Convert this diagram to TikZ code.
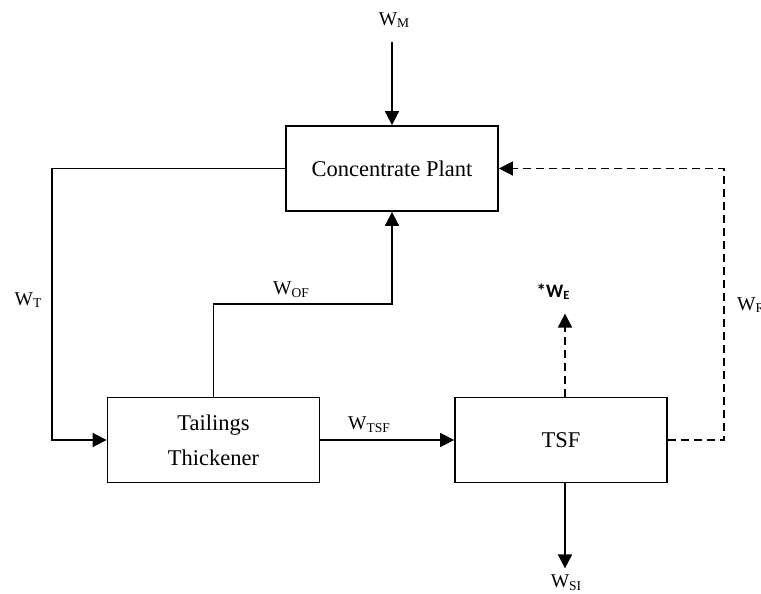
\documentclass[tikz,border=0pt]{standalone}
\usepackage{fontspec}
\setmainfont{Liberation Serif}
\newfontfamily\calibrifont{Carlito}
\usetikzlibrary{arrows.meta}
\newcommand{\flow}[1]{W\raisebox{-0.3ex}{\fontsize{13.5}{13.5}\selectfont #1}}

\begin{document}
\begin{tikzpicture}[x=1pt,y=-1pt,line width=1.8pt,
    >={Triangle[length=14pt,width=14pt]},
    unit/.style={draw,minimum width=212pt,minimum height=85pt,align=center,
        font=\fontsize{22.5}{35}\selectfont},
    lbl/.style={font=\fontsize{19.5}{22}\selectfont},
    recycle/.style={dashed,dash pattern=on 8pt off 5pt}]
    \useasboundingbox (0,0) rectangle (761,594);

    % process units
    \node[unit] (plant) at (392,168.5) {Concentrate Plant};
    \node[unit] (thick) at (213.5,440) {Tailings\\Thickener};
    \node[unit] (tsf) at (561,440) {TSF};

    % make-up water
    \coordinate (mtop) at (392,42);
    \draw[->] (mtop) -- (plant.north);
    \node[lbl] (wm) at (394,20) {\flow{M}};

    % tailings to thickener
    \draw[->] (plant.west) -- ++(-233,0) |- (thick.west);
    \node[lbl] (wt) at (28,300) {\flow{T}};

    % thickener overflow
    \draw[->] (thick.north) -- ++(0,-92.5) -| (plant.south);
    \node[lbl] (wof) at (291,290) {\flow{OF}};

    % thickener underflow
    \draw[->] (thick.east) -- (tsf.west);
    \node[lbl] (wtsf) at (369,425) {\flow{TSF}};

    % evaporation and seepage
    \coordinate (etop) at ([xshift=4pt]tsf.north);
    \coordinate (sbot) at ([xshift=4pt]tsf.south);
    \draw[->,recycle] (etop) -- ++(0,-83);
    \node[lbl,font=\calibrifont\bfseries\fontsize{19}{20}\selectfont] (we) at (553,292)
        {*W\raisebox{-0.2ex}{\fontsize{12.5}{12.5}\selectfont E}};
    \draw[->] (sbot) -- ++(0,85);
    \node[lbl] (wsi) at (566,583) {\flow{SI}};

    % return water
    \draw[->,recycle] (tsf.east) -- ++(56,0) |- (plant.east);
    \node[lbl,anchor=west] (wr) at (733,305) {\flow{R}};
\end{tikzpicture}
\end{document}
